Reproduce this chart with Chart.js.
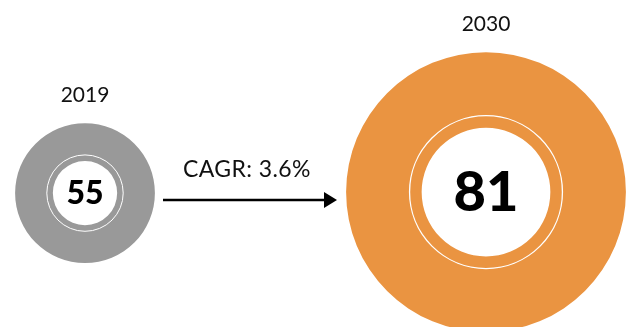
<!DOCTYPE html>
<html>
<head>
<meta charset="utf-8">
<script src="https://cdn.jsdelivr.net/npm/chart.js@4.4.1/dist/chart.umd.min.js"></script>
<style>
  html, body { margin: 0; padding: 0; background: #fff; overflow: hidden; }
  #wrap { position: relative; width: 626px; height: 327px; overflow: hidden; font-family: Lato, sans-serif; }
  .box { position: absolute; }
  #box2019 { left: 15px; top: 75px; width: 140px; height: 188px; }
  #box2030 { left: 346px; top: 4px; width: 280px; height: 328px; }
  #growth { position: absolute; left: 0; top: 0; }
</style>
</head>
<body>
<div id="wrap">
  <div class="box" id="box2019"><canvas id="chart2019"></canvas></div>
  <div class="box" id="box2030"><canvas id="chart2030"></canvas></div>
  <svg id="growth" width="626" height="327">
    <text id="cagrLabel" x="247" y="177" text-anchor="middle" font-family="Lato, sans-serif" font-size="23" letter-spacing="0.4" fill="#111"></text>
    <line x1="163" y1="200" x2="326" y2="200" stroke="#000" stroke-width="2.5"/>
    <polygon points="324,192 337,200 324,208" fill="#000"/>
  </svg>
</div>
<script>
// Valores do mercado por ano
const years = ['2019', '2030'];
const values = [55, 81];
const colors = ['#999999', '#EA9441'];
const cagr = 3.6;

document.getElementById('cagrLabel').textContent = 'CAGR: ' + cagr + '%';

// Desenha o número no centro e o anel branco fino dentro da rosca
const centerPlugin = {
    id: 'centerValue',
    afterDatasetsDraw(chart, args, opts) {
        const arc = chart.getDatasetMeta(0).data[0];
        if (!arc) return;
        const { x, y, innerRadius, outerRadius } = arc.getProps(['x', 'y', 'innerRadius', 'outerRadius'], true);
        const ctx = chart.ctx;
        ctx.save();
        ctx.beginPath();
        ctx.arc(x, y, innerRadius + (outerRadius - innerRadius) * 0.16, 0, Math.PI * 2);
        ctx.strokeStyle = '#ffffff';
        ctx.lineWidth = opts.ringWidth || 1;
        ctx.stroke();

        ctx.fillStyle = '#000';
        ctx.font = '900 ' + opts.fontSize + 'px Lato, sans-serif';
        ctx.textAlign = 'center';
        ctx.textBaseline = 'middle';
        ctx.fillText(chart.data.datasets[0].data[0], x, y + 1);
        ctx.restore();
    }
};

function makeDonut(id, i, fontSize) {
    return new Chart(document.getElementById(id), {
        type: 'doughnut',
        data: {
            labels: [years[i]],
            datasets: [{
                data: [values[i]],
                backgroundColor: colors[i],
                borderWidth: 0
            }]
        },
        options: {
            responsive: true,
            maintainAspectRatio: false,
            animation: false,
            cutout: '46%',
            layout: { padding: 0 },
            plugins: {
                legend: { display: false },
                tooltip: { enabled: false },
                title: {
                    display: true,
                    text: years[i],
                    color: '#111',
                    font: { family: 'Lato', size: 21, weight: 'normal' },
                    padding: { top: 8, bottom: 15 }
                },
                centerValue: { fontSize: fontSize, ringWidth: i === 0 ? 1 : 1.3 }
            }
        },
        plugins: [centerPlugin]
    });
}

makeDonut('chart2019', 0, 32);
makeDonut('chart2030', 1, 56);
</script>
</body>
</html>
